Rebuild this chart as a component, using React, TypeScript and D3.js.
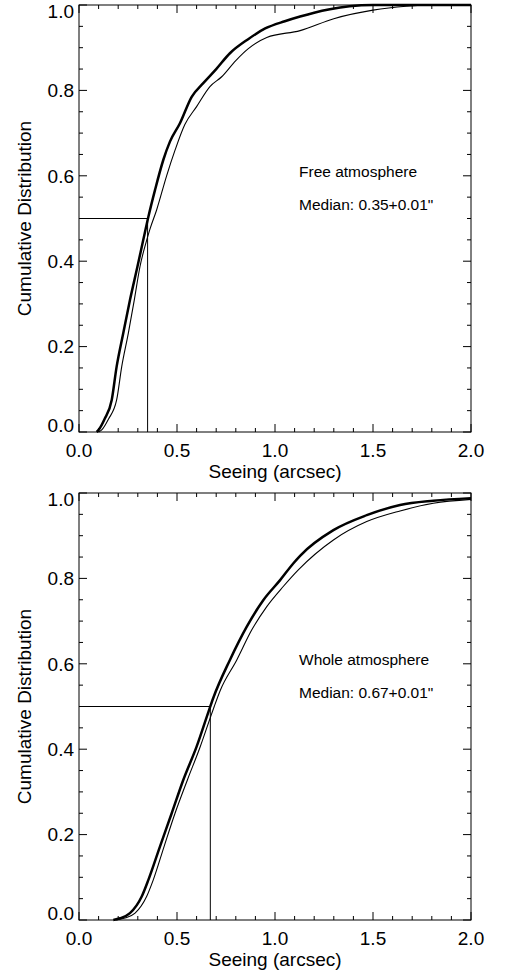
import { scaleLinear, line, curveMonotoneX, range } from "d3";

// free atmosphere, thick curve
const freeAX = [0.09, 0.1, 0.13, 0.167, 0.192, 0.226, 0.26, 0.298, 0.328, 0.354, 0.388, 0.43, 0.464, 0.515, 0.575, 0.634, 0.7, 0.77, 0.863, 0.95, 1.05, 1.128, 1.2, 1.28, 1.38, 1.5, 2.0];
const freeAY = [0, 0.005, 0.03, 0.075, 0.153, 0.232, 0.309, 0.387, 0.45, 0.504, 0.567, 0.637, 0.68, 0.723, 0.785, 0.817, 0.85, 0.887, 0.92, 0.945, 0.962, 0.973, 0.982, 0.99, 0.997, 1.0, 1.0];
// free atmosphere, thin curve
const freeBX = [0.1, 0.116, 0.15, 0.192, 0.218, 0.252, 0.282, 0.311, 0.349, 0.362, 0.396, 0.447, 0.49, 0.54, 0.6, 0.668, 0.728, 0.8, 0.864, 0.958, 1.128, 1.3, 1.5, 1.67, 1.8, 2.0];
const freeBY = [0, 0.005, 0.03, 0.075, 0.153, 0.232, 0.309, 0.387, 0.455, 0.475, 0.52, 0.6, 0.66, 0.72, 0.762, 0.809, 0.832, 0.87, 0.898, 0.924, 0.94, 0.968, 0.988, 0.997, 1.0, 1.0];
// whole atmosphere, thick curve
const wholeAX = [0.175, 0.21, 0.26, 0.32, 0.354, 0.413, 0.473, 0.532, 0.6, 0.66, 0.685, 0.77, 0.856, 0.94, 1.026, 1.093, 1.128, 1.298, 1.468, 1.638, 1.808, 2.0];
const wholeAY = [0, 0.004, 0.016, 0.055, 0.094, 0.172, 0.25, 0.328, 0.406, 0.487, 0.52, 0.609, 0.687, 0.749, 0.796, 0.835, 0.853, 0.913, 0.948, 0.972, 0.982, 0.988];
// whole atmosphere, thin curve
const wholeBX = [0.19, 0.23, 0.286, 0.345, 0.379, 0.434, 0.49, 0.553, 0.617, 0.67, 0.69, 0.72, 0.805, 0.881, 0.958, 1.042, 1.119, 1.298, 1.468, 1.638, 1.808, 2.0];
const wholeBY = [0, 0.004, 0.016, 0.055, 0.094, 0.172, 0.25, 0.328, 0.404, 0.474, 0.5, 0.537, 0.609, 0.679, 0.734, 0.781, 0.82, 0.89, 0.933, 0.958, 0.976, 0.985];

const xTicks = [0, 0.5, 1.0, 1.5, 2.0];
const yTicks = [0, 0.2, 0.4, 0.6, 0.8, 1.0];

const FONT = "'Liberation Sans', Arial, Helvetica, sans-serif";

interface PanelProps {
  top: number;
  ax: number[];
  ay: number[];
  bx: number[];
  by: number[];
  median: number;
  name: string;
  note: string;
}

function Panel({ top, ax, ay, bx, by, median, name, note }: PanelProps) {
  const left = 79;
  const right = 471;
  const bottom = top + 427;

  const x = scaleLinear().domain([0, 2]).range([left, right]);
  const y = scaleLinear().domain([0, 1]).range([bottom, top]);

  const path = line<number>()
    .x((d) => x(d))
    .curve(curveMonotoneX);

  const curve = (xs: number[], ys: number[]) =>
    path.y((_, i) => y(ys[i]))(xs) as string;

  const xMinor = range(0, 2.0001, 0.1);
  const yMinor = range(0, 1.0001, 0.05);
  const isMajor = (v: number, step: number) =>
    Math.abs(v / step - Math.round(v / step)) < 1e-6;

  return (
    <g>
      {/* ticks, drawn inward on all four sides */}
      {xMinor.map((v) => {
        const len = isMajor(v, 0.5) ? 8 : 4;
        return (
          <g key={`xt-${v}`} stroke="#000" strokeWidth={1}>
            <line x1={x(v)} x2={x(v)} y1={bottom} y2={bottom - len} />
            <line x1={x(v)} x2={x(v)} y1={top} y2={top + len} />
          </g>
        );
      })}
      {yMinor.map((v) => {
        const len = isMajor(v, 0.2) ? 8 : 4;
        return (
          <g key={`yt-${v}`} stroke="#000" strokeWidth={1}>
            <line x1={left} x2={left + len} y1={y(v)} y2={y(v)} />
            <line x1={right} x2={right - len} y1={y(v)} y2={y(v)} />
          </g>
        );
      })}
      <rect
        x={left}
        y={top}
        width={right - left}
        height={bottom - top}
        fill="none"
        stroke="#000"
        strokeWidth={1}
      />

      {xTicks.map((v) => (
        <text
          key={`xl-${v}`}
          x={x(v)}
          y={bottom + 25}
          textAnchor="middle"
          fontSize={19}
          fontFamily={FONT}
        >
          {v.toFixed(1)}
        </text>
      ))}
      {yTicks.map((v) => {
        const base = Math.max(top + 13.3, Math.min(bottom, y(v) + 6.8));
        return (
          <text
            key={`yl-${v}`}
            x={left - 5}
            y={base}
            textAnchor="end"
            fontSize={19}
            fontFamily={FONT}
          >
            {v.toFixed(1)}
          </text>
        );
      })}

      <text
        x={(left + right) / 2}
        y={bottom + 46}
        textAnchor="middle"
        fontSize={19}
        fontFamily={FONT}
      >
        Seeing (arcsec)
      </text>
      <text
        transform={`translate(31, ${(top + bottom) / 2}) rotate(-90)`}
        textAnchor="middle"
        fontSize={19}
        fontFamily={FONT}
      >
        Cumulative Distribution
      </text>

      {/* median guide */}
      <path
        d={`M${x(0)},${y(0.5)}H${x(median)}V${y(0)}`}
        fill="none"
        stroke="#000"
        strokeWidth={1}
      />

      <path d={curve(bx, by)} fill="none" stroke="#000" strokeWidth={1.1} />
      <path
        d={curve(ax, ay)}
        fill="none"
        stroke="#000"
        strokeWidth={2.5}
        strokeLinejoin="round"
      />

      <text x={299} y={top + 172} fontSize={15.5} fontFamily={FONT}>
        {name}
      </text>
      <text x={299} y={top + 205} fontSize={15.5} fontFamily={FONT}>
        {note}
      </text>
    </g>
  );
}

export default function App() {
  return (
    <svg
      width={505}
      height={976}
      style={{ position: "absolute", left: 0, top: 0, background: "#fff" }}
    >
      <Panel
        top={5}
        ax={freeAX}
        ay={freeAY}
        bx={freeBX}
        by={freeBY}
        median={0.35}
        name="Free atmosphere"
        note={'Median: 0.35+0.01"'}
      />
      <Panel
        top={493}
        ax={wholeAX}
        ay={wholeAY}
        bx={wholeBX}
        by={wholeBY}
        median={0.67}
        name="Whole atmosphere"
        note={'Median: 0.67+0.01"'}
      />
    </svg>
  );
}
